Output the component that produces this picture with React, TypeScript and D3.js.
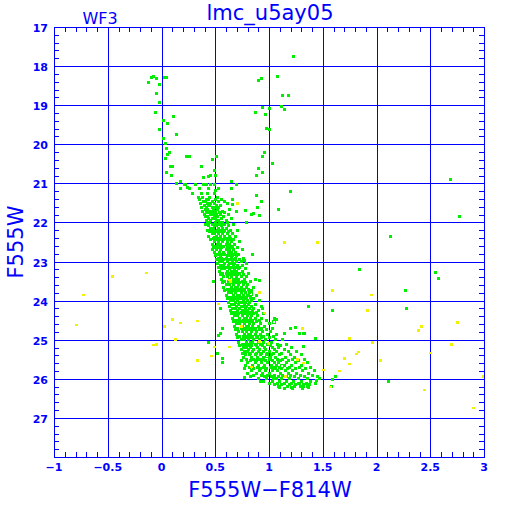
import * as React from 'react';
import * as d3 from 'd3';

// axis definitions
const xTickValues = [-1, -0.5, 0, 0.5, 1, 1.5, 2, 2.5, 3];
const xTickLabels = ['−1', '−0.5', '0', '0.5', '1', '1.5', '2', '2.5', '3'];
const yTickValues = [17, 18, 19, 20, 21, 22, 23, 24, 25, 26, 27];
const yTickLabels = ['17', '18', '19', '20', '21', '22', '23', '24', '25', '26', '27'];

// main sequence, read row by row: F555W magnitude and the colours found at it
const msMag = [
  21.04, 21.13, 21.27, 21.36, 21.41, 21.47, 21.52, 21.56, 21.61, 21.67, 21.71, 21.74, 21.79,
  21.86, 21.9, 21.94, 22.01, 22.06, 22.09, 22.16, 22.21, 22.24, 22.29, 22.36, 22.41, 22.44,
  22.49, 22.56, 22.61, 22.64, 22.69, 22.76, 22.81, 22.84, 22.91, 22.96, 23.01, 23.04, 23.11,
  23.14, 23.19, 23.26, 23.31, 23.34, 23.39, 23.46, 23.51, 23.54, 23.59, 23.66, 23.71, 23.74,
  23.79, 23.86, 23.91, 23.94, 23.99, 24.06, 24.11, 24.14, 24.19, 24.26, 24.31, 24.34, 24.39,
  24.46, 24.51, 24.54, 24.59, 24.66, 24.71, 24.74, 24.79, 24.86, 24.91, 24.94, 24.99, 25.06,
  25.11, 25.14, 25.19, 25.26, 25.31, 25.34, 25.39, 25.46, 25.51, 25.54, 25.59, 25.66, 25.71,
  25.74, 25.79, 25.86, 25.91, 25.94, 25.99, 26.06, 26.11, 26.14, 26.19, 26.26,
];
const msColor = [
  [0.21, 0.32, 0.39, 0.46],
  [0.26, 0.35, 0.44, 0.53],
  [0.29, 0.37, 0.43, 0.49],
  [0.34, 0.38, 0.45, 0.52],
  [0.35, 0.42, 0.44, 0.5, 0.56],
  [0.39, 0.41, 0.47, 0.53, 0.59],
  [0.36, 0.43, 0.46, 0.49, 0.61],
  [0.4, 0.44, 0.45, 0.51, 0.55],
  [0.37, 0.42, 0.47, 0.5, 0.53],
  [0.41, 0.43, 0.48, 0.52, 0.63],
  [0.38, 0.45, 0.47, 0.5, 0.57],
  [0.42, 0.44, 0.49, 0.54, 0.59],
  [0.4, 0.46, 0.48, 0.51, 0.55, 0.62],
  [0.41, 0.43, 0.49, 0.52, 0.58],
  [0.44, 0.47, 0.5, 0.56, 0.65],
  [0.42, 0.46, 0.51, 0.53, 0.6],
  [0.43, 0.45, 0.5, 0.54, 0.57, 0.61],
  [0.41, 0.47, 0.52, 0.55, 0.59, 0.67],
  [0.44, 0.49, 0.51, 0.56, 0.62],
  [0.46, 0.48, 0.53, 0.57, 0.6],
  [0.43, 0.47, 0.52, 0.55, 0.59, 0.64, 0.71],
  [0.45, 0.5, 0.54, 0.58, 0.62],
  [0.47, 0.49, 0.53, 0.57, 0.61, 0.66],
  [0.44, 0.51, 0.55, 0.59, 0.63, 0.69],
  [0.48, 0.52, 0.54, 0.6, 0.64],
  [0.46, 0.5, 0.56, 0.58, 0.62, 0.67],
  [0.49, 0.53, 0.57, 0.61, 0.65, 0.73],
  [0.47, 0.52, 0.55, 0.6, 0.63, 0.68],
  [0.5, 0.54, 0.58, 0.62, 0.66],
  [0.48, 0.53, 0.56, 0.61, 0.64, 0.71],
  [0.51, 0.55, 0.6, 0.63, 0.67, 0.75],
  [0.49, 0.54, 0.58, 0.62, 0.65, 0.69],
  [0.52, 0.57, 0.59, 0.64, 0.68, 0.72],
  [0.5, 0.55, 0.61, 0.63, 0.66, 0.7],
  [0.53, 0.56, 0.6, 0.65, 0.69, 0.76],
  [0.51, 0.58, 0.62, 0.64, 0.67, 0.73],
  [0.54, 0.57, 0.61, 0.66, 0.7, 0.74],
  [0.52, 0.59, 0.63, 0.65, 0.68, 0.79],
  [0.55, 0.58, 0.62, 0.67, 0.71, 0.75],
  [0.53, 0.6, 0.64, 0.66, 0.69, 0.73],
  [0.56, 0.59, 0.63, 0.68, 0.72, 0.78],
  [0.54, 0.61, 0.65, 0.67, 0.7, 0.75],
  [0.57, 0.6, 0.64, 0.69, 0.73, 0.81],
  [0.55, 0.62, 0.66, 0.68, 0.71, 0.76],
  [0.58, 0.61, 0.65, 0.7, 0.74, 0.79],
  [0.56, 0.63, 0.67, 0.69, 0.72, 0.77],
  [0.59, 0.62, 0.66, 0.71, 0.75, 0.83],
  [0.57, 0.64, 0.68, 0.7, 0.73, 0.78],
  [0.6, 0.63, 0.67, 0.72, 0.76, 0.8],
  [0.58, 0.65, 0.69, 0.71, 0.74, 0.79, 0.86],
  [0.61, 0.64, 0.68, 0.73, 0.77, 0.81],
  [0.59, 0.66, 0.7, 0.72, 0.75, 0.84],
  [0.62, 0.65, 0.69, 0.74, 0.78, 0.82],
  [0.6, 0.67, 0.71, 0.73, 0.76, 0.8, 0.88],
  [0.63, 0.66, 0.7, 0.75, 0.79, 0.83],
  [0.61, 0.68, 0.72, 0.74, 0.77, 0.86],
  [0.64, 0.67, 0.71, 0.76, 0.8, 0.84, 0.91],
  [0.62, 0.69, 0.73, 0.75, 0.78, 0.82],
  [0.65, 0.68, 0.72, 0.77, 0.81, 0.87],
  [0.63, 0.7, 0.74, 0.76, 0.79, 0.84, 0.93],
  [0.66, 0.69, 0.73, 0.78, 0.82, 0.86],
  [0.64, 0.71, 0.75, 0.77, 0.8, 0.85, 0.9],
  [0.67, 0.7, 0.74, 0.79, 0.83, 0.88],
  [0.65, 0.72, 0.76, 0.78, 0.81, 0.86, 0.95],
  [0.68, 0.71, 0.75, 0.8, 0.84, 0.89],
  [0.66, 0.73, 0.77, 0.79, 0.83, 0.87, 0.93],
  [0.69, 0.72, 0.76, 0.81, 0.85, 0.91, 0.98],
  [0.67, 0.74, 0.78, 0.8, 0.84, 0.88],
  [0.7, 0.73, 0.77, 0.82, 0.86, 0.92, 1.0],
  [0.68, 0.75, 0.79, 0.81, 0.85, 0.9, 0.96],
  [0.71, 0.74, 0.78, 0.83, 0.87, 0.93, 1.03],
  [0.69, 0.76, 0.8, 0.82, 0.86, 0.91, 0.98],
  [0.72, 0.75, 0.79, 0.84, 0.88, 0.94, 1.01],
  [0.7, 0.77, 0.81, 0.83, 0.87, 0.92, 0.99, 1.07],
  [0.73, 0.76, 0.8, 0.85, 0.89, 0.95, 1.04],
  [0.71, 0.78, 0.82, 0.84, 0.88, 0.93, 1.0],
  [0.74, 0.77, 0.81, 0.86, 0.91, 0.97, 1.06, 1.13],
  [0.72, 0.79, 0.83, 0.85, 0.9, 0.95, 1.02],
  [0.75, 0.78, 0.82, 0.87, 0.92, 0.99, 1.08, 1.16],
  [0.73, 0.8, 0.84, 0.88, 0.94, 1.01, 1.11],
  [0.76, 0.79, 0.83, 0.89, 0.96, 1.03, 1.09, 1.21],
  [0.74, 0.81, 0.86, 0.91, 0.97, 1.05, 1.14],
  [0.77, 0.8, 0.85, 0.9, 0.95, 1.0, 1.07, 1.18, 1.26],
  [0.75, 0.83, 0.88, 0.93, 0.99, 1.04, 1.12],
  [0.78, 0.82, 0.87, 0.92, 0.98, 1.02, 1.1, 1.2, 1.3],
  [0.76, 0.84, 0.89, 0.95, 1.01, 1.06, 1.15, 1.24],
  [0.79, 0.86, 0.91, 0.94, 1.0, 1.08, 1.13, 1.22, 1.33],
  [0.74, 0.83, 0.88, 0.97, 1.03, 1.11, 1.18, 1.27],
  [0.8, 0.87, 0.93, 0.99, 1.05, 1.09, 1.16, 1.25, 1.36],
  [0.78, 0.85, 0.9, 0.96, 1.02, 1.07, 1.14, 1.21, 1.3],
  [0.82, 0.89, 0.95, 1.01, 1.04, 1.1, 1.19, 1.28, 1.39],
  [0.77, 0.86, 0.92, 0.98, 1.06, 1.12, 1.17, 1.25, 1.34],
  [0.84, 0.91, 0.97, 1.03, 1.08, 1.15, 1.22, 1.31, 1.42],
  [0.8, 0.88, 0.94, 1.0, 1.11, 1.18, 1.26, 1.37],
  [0.86, 0.93, 0.99, 1.05, 1.13, 1.2, 1.29, 1.4],
  [0.83, 0.96, 1.02, 1.09, 1.16, 1.24, 1.33, 1.45],
  [0.9, 0.98, 1.07, 1.12, 1.19, 1.27, 1.36],
  [0.95, 1.03, 1.1, 1.16, 1.23, 1.3, 1.39],
  [1.0, 1.08, 1.14, 1.21, 1.27, 1.35, 1.43],
  [1.05, 1.12, 1.19, 1.25, 1.32, 1.38],
  [1.09, 1.17, 1.24, 1.29, 1.36],
  [1.14, 1.22, 1.31],
];

// sparse green stars: [colour, magnitude]
const greenStars = [
  [-0.12, 18.42], [-0.09, 18.3], [-0.07, 18.27], [-0.05, 18.33], [0.03, 18.3], [0.05, 18.3],
  [-0.02, 18.48], [-0.05, 18.7], [-0.02, 18.94], [-0.06, 19.19], [0.02, 19.38], [0.11, 19.28],
  [0.06, 19.48], [-0.02, 19.61], [0.14, 19.74], [0.02, 19.84], [0.04, 19.99], [0.05, 20.11],
  [0.06, 20.27], [0.07, 20.22], [0.04, 20.37], [0.23, 20.3], [0.26, 20.32], [0.47, 20.4],
  [0.51, 20.32], [0.08, 20.57], [0.1, 20.58], [0.37, 20.58], [0.49, 20.66], [0.05, 20.72],
  [0.09, 20.81], [0.39, 20.84], [0.44, 20.83], [0.46, 20.81], [0.5, 20.79], [0.14, 21.0],
  [0.18, 20.94], [0.22, 21.03], [0.18, 21.12], [0.24, 21.1], [0.42, 21.02], [0.49, 21.03],
  [0.5, 21.18], [0.65, 20.96], [0.7, 21.04], [0.65, 21.13], [0.88, 21.32], [0.93, 21.46],
  [0.66, 21.42], [0.66, 21.54], [0.7, 21.73], [0.78, 21.7], [0.89, 21.62], [0.86, 21.77],
  [0.84, 21.8], [0.91, 21.82], [1.09, 21.68], [1.2, 21.22], [0.79, 21.99], [0.85, 22.81],
  [0.77, 22.98], [0.87, 23.45], [0.91, 23.49], [0.94, 24.21], [1.05, 24.45], [1.07, 24.49],
  [1.14, 24.84], [1.2, 24.72], [1.25, 24.69], [1.28, 24.84], [1.32, 24.84],
  [0.9, 18.36], [0.93, 18.32], [1.08, 18.27], [1.23, 17.76], [1.13, 18.76], [1.18, 18.76],
  [0.94, 19.07], [1.0, 19.08], [1.12, 19.04], [1.14, 19.12], [0.87, 19.19], [0.97, 19.24],
  [0.98, 19.6], [1.0, 19.63], [0.96, 20.22], [0.94, 20.32], [1.03, 20.49], [0.9, 20.62],
  [0.94, 20.72], [0.88, 20.81],
  [2.69, 20.89], [2.77, 21.86], [2.13, 22.35], [1.84, 23.21], [2.55, 23.29], [2.58, 23.44],
  [2.27, 23.73], [1.37, 24.14], [1.59, 24.24], [2.28, 24.21], [1.33, 24.85], [1.43, 24.96],
  [1.32, 25.17], [1.62, 25.95], [1.59, 26.02], [1.58, 26.2], [2.11, 26.08],
  [0.47, 22.7], [0.48, 23.52], [0.55, 24.21], [0.57, 24.72], [0.55, 24.85], [0.53, 24.9],
  [0.44, 25.06], [0.52, 25.36], [0.57, 25.48], [0.57, 25.58],
  [1.1, 26.21], [1.21, 26.23], [1.32, 26.2], [1.37, 26.22], [1.28, 26.13], [1.44, 26.05],
  [1.47, 26.0], [0.92, 26.07], [1.04, 26.0], [0.77, 25.96],
];

// open (hollow) green symbols
const openStars = [
  [0.5, 22.4], [0.83, 23.83], [1.05, 24.55], [0.98, 25.42], [1.12, 25.66],
];

// yellow stars
const yellowStars = [
  [-0.8, 24.62], [-0.73, 23.85], [-0.46, 23.37], [-0.14, 23.29], [0.1, 24.47], [0.17, 24.57],
  [0.33, 24.51], [0.02, 24.66], [0.13, 24.99], [-0.08, 25.13], [-0.05, 25.11], [0.33, 25.52],
  [0.46, 25.41], [0.49, 25.18], [0.53, 24.08], [0.64, 23.5], [0.91, 23.78], [0.95, 24.31],
  [0.74, 24.66], [1.31, 24.7], [0.7, 21.51], [1.14, 22.5], [1.45, 22.5], [1.59, 23.73],
  [1.95, 23.85], [1.91, 24.24], [2.75, 24.55], [2.41, 24.65], [2.39, 24.76], [1.74, 24.96],
  [1.96, 25.06], [2.69, 25.11], [2.5, 25.33], [1.83, 25.31], [1.81, 25.36], [1.7, 25.48],
  [2.03, 25.53], [1.74, 25.62], [1.65, 25.79], [1.5, 25.77], [2.99, 25.93], [1.57, 26.2],
  [2.44, 26.28], [2.9, 26.74], [0.63, 25.18], [0.91, 25.04], [0.99, 25.09], [0.83, 25.69],
  [1.26, 25.5], [1.32, 25.59], [1.15, 25.93], [0.63, 23.47],
];

const BLUE = '#0000ff';
const GREEN = '#00ee00';
const YELLOW = '#f2f200';
const FONT = '"DejaVu Sans", sans-serif';

export default function App() {
  const x = d3.scaleLinear().domain([-1, 3]).range([54, 484]);
  const y = d3.scaleLinear().domain([17, 28]).range([27, 457]);
  const px = (v: number) => Math.round(x(v)) + 0.5;
  const py = (v: number) => Math.round(y(v)) + 0.5;

  const msStars = msMag.flatMap((m, i) => msColor[i].map((c) => [c, m]));

  const xGrid = d3.range(-0.5, 2.51, 0.5);
  const yGrid = d3.range(18, 27.01, 1);
  const xMinor = d3.range(-1, 3.001, 0.1);
  const yMinor = d3.range(17, 28.001, 0.2);

  return (
    <div style={{ position: 'fixed', left: 0, top: 0 }}>
      <svg width={512} height={512} style={{ display: 'block', background: '#fff' }}>
        <g shapeRendering="crispEdges" stroke={BLUE} strokeWidth={1}>
          {xGrid.map((v) => (
            <line key={'gx' + v} x1={px(v)} x2={px(v)} y1={27} y2={457} />
          ))}
          {yGrid.map((v) => (
            <line key={'gy' + v} x1={54} x2={484} y1={py(v)} y2={py(v)} />
          ))}
          {xMinor.map((v) => (
            <g key={'mx' + v}>
              <line x1={px(v)} x2={px(v)} y1={27} y2={32} />
              <line x1={px(v)} x2={px(v)} y1={452} y2={457} />
            </g>
          ))}
          {yMinor.map((v) => (
            <g key={'my' + v}>
              <line x1={54} x2={59} y1={py(v)} y2={py(v)} />
              <line x1={479} x2={484} y1={py(v)} y2={py(v)} />
            </g>
          ))}
        </g>

        <g shapeRendering="crispEdges">
          {msStars.map(([c, m], i) => (
            <rect key={'ms' + i} x={x(c) - 1.5} y={y(m) - 1.5} width={3} height={3} fill={GREEN} />
          ))}
          {greenStars.map(([c, m], i) => (
            <rect key={'g' + i} x={x(c) - 1.5} y={y(m) - 1.5} width={3} height={3} fill={GREEN} />
          ))}
          {openStars.map(([c, m], i) => (
            <rect key={'o' + i} x={x(c) - 1.5} y={y(m) - 1.5} width={3} height={3} fill="none" stroke={GREEN} strokeWidth={1} />
          ))}
          {yellowStars.map(([c, m], i) => (
            <rect key={'yl' + i} x={x(c) - 1} y={y(m) - 1} width={3} height={2.5} fill={YELLOW} />
          ))}
        </g>

        <rect x={54.5} y={27.5} width={430} height={430} fill="none" stroke={BLUE} strokeWidth={1} shapeRendering="crispEdges" />

        <g fill={BLUE} fontFamily={FONT} fontSize={11} fontWeight="bold">
          {xTickValues.map((v, i) => (
            <text key={'xl' + v} x={x(v)} y={471} textAnchor="middle">
              {xTickLabels[i]}
            </text>
          ))}
          {yTickValues.map((v, i) => (
            <text key={'yl' + v} x={48} y={y(v) + 5} textAnchor="end">
              {yTickLabels[i]}
            </text>
          ))}
        </g>

        <g fill={BLUE} fontFamily={FONT}>
          <text x={270} y={20} textAnchor="middle" fontSize={21}>lmc_u5ay05</text>
          <text x={100} y={24} textAnchor="middle" fontSize={16}>WF3</text>
          <text x={270} y={497} textAnchor="middle" fontSize={21}>F555W−F814W</text>
          <text transform="translate(23,242) rotate(-90)" textAnchor="middle" fontSize={21}>F555W</text>
        </g>
      </svg>
    </div>
  );
}
